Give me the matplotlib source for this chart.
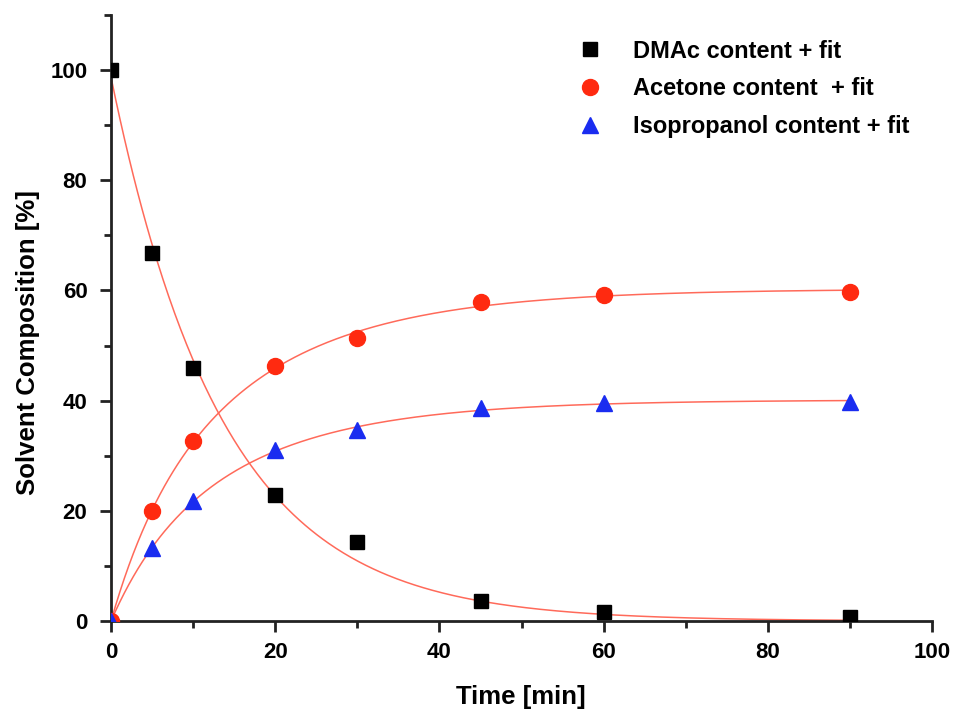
import numpy as np
import matplotlib
matplotlib.use("Agg")
import matplotlib.pyplot as plt
from matplotlib.lines import Line2D
from matplotlib.ticker import MultipleLocator

# ---- data ----
time_min = [0, 5, 10, 20, 30, 45, 60, 90]
dmac = [100, 66.8, 46.0, 22.8, 14.3, 3.6, 1.6, 0.8]
acetone = [0, 20.0, 32.6, 46.3, 51.4, 57.9, 59.2, 59.7]
isopropanol = [0, 13.3, 21.7, 31.1, 34.6, 38.7, 39.5, 39.8]
labels = ["DMAc content + fit", "Acetone content  + fit", "Isopropanol content + fit"]


def basis(t, tau, decay):
    return np.exp(-t / tau) if decay else 1 - np.exp(-t / tau)


def fit_single(t, y, decay):
    t = np.asarray(t, float)
    y = np.asarray(y, float)
    best = None
    for tau in np.linspace(2, 60, 2901):
        b = basis(t, tau, decay)
        a = (b @ y) / (b @ b)
        err = np.sum((a * b - y) ** 2)
        if best is None or err < best[0]:
            best = (err, [a], [tau])
    return best[1], best[2]


def fit_double(t, y, decay):
    t = np.asarray(t, float)
    y = np.asarray(y, float)
    best = None
    for t1 in np.arange(1.0, 15.0, 0.25):
        for t2 in np.arange(t1 + 1, 60.0, 0.5):
            B = np.column_stack([basis(t, t1, decay), basis(t, t2, decay)])
            a, *_ = np.linalg.lstsq(B, y, rcond=None)
            if np.any(a < 0):
                continue
            err = np.sum((B @ a - y) ** 2)
            if best is None or err < best[0]:
                best = (err, list(a), [t1, t2])
    return best[1], best[2]


def curve(tt, amps, taus, decay):
    return sum(a * basis(tt, tau, decay) for a, tau in zip(amps, taus))


plt.rcParams['font.family'] = ['Liberation Sans', 'DejaVu Sans']
plt.rcParams['font.weight'] = 'bold'

fig = plt.figure(figsize=(9.54, 7.12), dpi=100)
ax = fig.add_axes([0.1164, 0.1278, 0.8606, 0.8512])

tt = np.linspace(0, 90, 500)
fit_color = '#ff6a5a'
a, tau = fit_single(time_min, dmac, True)
ax.plot(tt, curve(tt, a, tau, True), color=fit_color, lw=1.1, zorder=2)
for y in (acetone, isopropanol):
    a, tau = fit_double(time_min, y, False)
    ax.plot(tt, curve(tt, a, tau, False), color=fit_color, lw=1.1, zorder=2)

ax.plot(time_min, dmac, 's', color='black', ms=10, ls='none', zorder=3)
ax.plot(time_min, acetone, 'o', color='#ff2a10', ms=11.5, ls='none', zorder=3)
ax.plot(time_min, isopropanol, '^', color='#1a2cf0', ms=12, ls='none', zorder=3)

ax.set_xlim(0, 100)
ax.set_ylim(0, 110)
ax.xaxis.set_major_locator(MultipleLocator(20))
ax.xaxis.set_minor_locator(MultipleLocator(10))
ax.yaxis.set_minor_locator(MultipleLocator(10))
ax.set_yticks([0, 20, 40, 60, 80, 100])

for s in ['top', 'right']:
    ax.spines[s].set_visible(False)
for s in ['left', 'bottom']:
    ax.spines[s].set_linewidth(2)
    ax.spines[s].set_color('#222222')

ax.tick_params(which='major', direction='out', length=8, width=2, labelsize=16, color='#222222')
ax.tick_params(axis='y', which='major', pad=9)
ax.tick_params(axis='x', which='major', pad=7)
ax.tick_params(which='minor', direction='out', length=5, width=2, color='#222222')
for lab in ax.get_xticklabels() + ax.get_yticklabels():
    lab.set_fontweight('bold')

ax.set_xlabel("Time [min]", fontsize=18.5, fontweight='bold')
ax.set_ylabel("Solvent Composition [%]", fontsize=18.5, fontweight='bold')
ax.xaxis.set_label_coords(0.4994, -0.125)
ax.xaxis.label.set_verticalalignment('center')
ax.yaxis.set_label_coords(-0.101, 0.46)
ax.yaxis.label.set_verticalalignment('center')

handles = [
    Line2D([], [], marker='s', color='black', ls='none', ms=10),
    Line2D([], [], marker='o', color='#ff2a10', ls='none', ms=11.5),
    Line2D([], [], marker='^', color='#1a2cf0', ls='none', ms=12),
]
ax.legend(handles, labels, loc='upper left', bbox_to_anchor=(0.543, 0.975),
          frameon=False, prop={'size': 17, 'weight': 'bold'},
          handletextpad=0.82, labelspacing=0.62, borderaxespad=0)

fig.savefig("out.png", dpi=100)
